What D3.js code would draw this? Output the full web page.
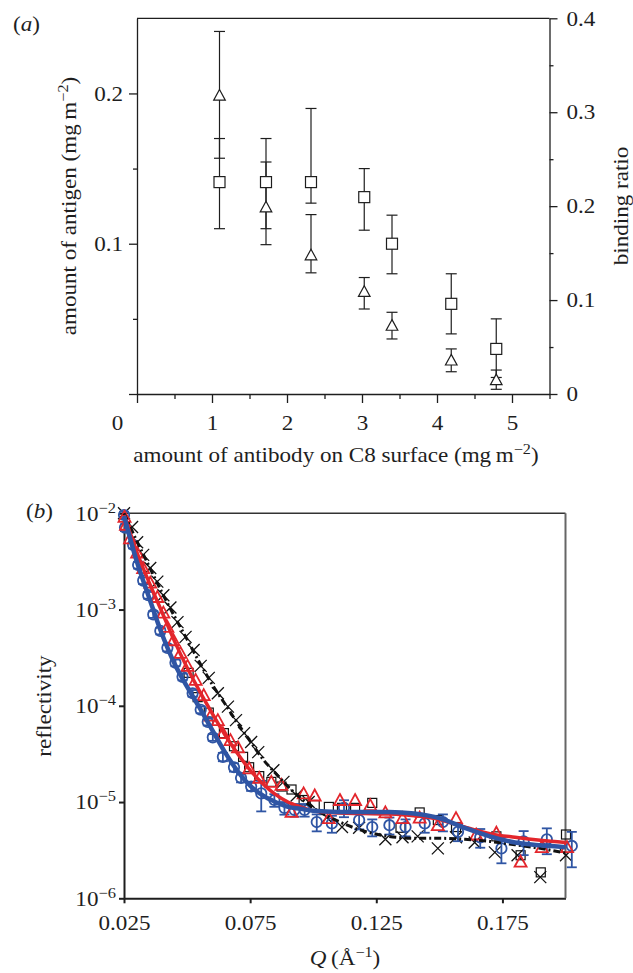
<!DOCTYPE html>
<html>
<head>
<meta charset="utf-8">
<script src="https://cdn.jsdelivr.net/npm/d3@7"></script>
<style>
body { margin: 0; background: #fff; }
svg { display: block; font-family: "Liberation Serif", "Times New Roman", serif; }
</style>
</head>
<body>
<svg id="fig" width="633" height="973"></svg>
<script>
// ---------- panel (a) data
const antibody  = [1.1, 1.72, 2.32, 3.03, 3.4, 4.19, 4.79];
const antigen   = [0.141, 0.141, 0.141, 0.131, 0.100, 0.060, 0.030];
const antigenLo = [0.110, 0.110, 0.127, 0.109, 0.080, 0.040, 0.011];
const antigenHi = [0.170, 0.170, 0.190, 0.150, 0.119, 0.080, 0.050];
const bindRatio = [0.318, 0.199, 0.148, 0.109, 0.073, 0.036, 0.015];
const bindLo    = [0.251, 0.159, 0.129, 0.0905, 0.0586, 0.0237, 0.005];
const bindHi    = [0.386, 0.247, 0.191, 0.124, 0.087, 0.048, 0.0255];

const xTicksA = [0, 1, 2, 3, 4, 5];
const xMinorA = [0.5, 1.5, 2.5, 3.5, 4.5, 5.5];
const yTicksL = [0, 0.1, 0.2];
const yMinorL = [0.05, 0.15];
const yTicksR = [0, 0.1, 0.2, 0.3, 0.4];
const yMinorR = [0.05, 0.15, 0.25, 0.35];

// ---------- panel (b) data
const qCross = [0.025, 0.0282, 0.0302, 0.0326, 0.0354, 0.0382, 0.0406, 0.0434, 0.0462, 0.0494, 0.0526, 0.0554,
  0.0586, 0.0622, 0.0662, 0.0694, 0.0726, 0.0754, 0.0782, 0.0842, 0.0882, 0.0934, 0.0982, 0.1054, 0.1114,
  0.1182, 0.1286, 0.1354, 0.1414, 0.1494, 0.1566, 0.164, 0.172, 0.181, 0.190, 0.2002];
const rCross = [1.0e-2, 7.2e-3, 5.0e-3, 3.7e-3, 2.7e-3, 1.95e-3, 1.41e-3, 1.05e-3, 7.4e-4, 5.2e-4, 3.8e-4, 2.6e-4,
  1.95e-4, 1.35e-4, 9.8e-5, 7.1e-5, 5.2e-5, 4.2e-5, 3.3e-5, 2.14e-5, 1.62e-5, 1.17e-5, 1.0e-5, 6.9e-6, 5.5e-6,
  5.4e-6, 4.1e-6, 4.3e-6, 4.4e-6, 3.3e-6, 4.3e-6, 3.8e-6, 3.0e-6, 2.8e-6, 1.66e-6, 2.8e-6];

const qSquare = [0.0506, 0.0542, 0.0586, 0.0646, 0.0686, 0.0722, 0.0746, 0.0786, 0.0834, 0.0874, 0.0914, 0.0962,
  0.1006, 0.1062, 0.1114, 0.1166, 0.1234, 0.1346, 0.1422, 0.1494, 0.1566, 0.1726, 0.1822, 0.1902, 0.2002];
const rSquare = [2.2e-4, 1.23e-4, 8.5e-5, 5.2e-5, 3.8e-5, 2.95e-5, 2.3e-5, 1.86e-5, 1.62e-5, 1.45e-5, 1.35e-5, 1.05e-5,
  9.3e-6, 8.9e-6, 8.7e-6, 8.7e-6, 9.8e-6, 5.4e-6, 7.8e-6, 6.5e-6, 5.5e-6, 4.4e-6, 2.8e-6, 1.86e-6, 4.6e-6];

const qTri = [0.0252, 0.0258, 0.0274, 0.0302, 0.0326, 0.0354, 0.0382, 0.0406, 0.0422, 0.0446, 0.0474, 0.0502, 0.0534,
  0.0566, 0.0594, 0.0622, 0.0642, 0.0672, 0.0702, 0.0746, 0.0786, 0.0834, 0.0874, 0.0914, 0.0962, 0.1006,
  0.1062, 0.1106, 0.1166, 0.1226, 0.1286, 0.1354, 0.1422, 0.1494, 0.1566, 0.1646, 0.1726, 0.1822, 0.1906, 0.2006];
const rTri = [9.2e-3, 7.6e-3, 5.5e-3, 3.9e-3, 2.7e-3, 1.9e-3, 1.35e-3, 9.3e-4, 6.6e-4, 4.8e-4, 3.55e-4, 2.6e-4, 1.86e-4,
  1.29e-4, 7.9e-5, 7.1e-5, 5.2e-5, 4.4e-5, 3.7e-5, 2.24e-5, 1.78e-5, 1.62e-5, 1.51e-5, 7.9e-6, 1.23e-5, 1.17e-5,
  6.8e-6, 1.05e-5, 1.05e-5, 9.3e-6, 7.8e-6, 6.8e-6, 6.9e-6, 5.75e-6, 6.8e-6, 4.6e-6, 4.8e-6, 2.4e-6, 3.4e-6, 3.4e-6];

const qCirc = [0.025, 0.0254, 0.0286, 0.0306, 0.0326, 0.0346, 0.0366, 0.0394, 0.0422, 0.0454, 0.0482, 0.0522, 0.0554,
  0.0582, 0.0602, 0.0642, 0.0686, 0.0714, 0.0754, 0.0794, 0.0846, 0.0886, 0.0926, 0.0966, 0.1014, 0.1074,
  0.1122, 0.1182, 0.1234, 0.1302, 0.1366, 0.1442, 0.1514, 0.1574, 0.1662, 0.1746, 0.1834, 0.1926, 0.2025];
const rCirc = [9.6e-3, 7.1e-3, 4.7e-3, 2.9e-3, 2.0e-3, 1.41e-3, 8.9e-4, 6.0e-4, 4.0e-4, 2.8e-4, 2.0e-4, 1.35e-4, 9.1e-5,
  6.8e-5, 4.7e-5, 2.95e-5, 2.3e-5, 1.78e-5, 1.45e-5, 1.23e-5, 1.05e-5, 8.7e-6, 8.3e-6, 8.3e-6, 6.2e-6, 6.0e-6,
  8.7e-6, 6.5e-6, 5.5e-6, 5.75e-6, 5.5e-6, 6.0e-6, 6.2e-6, 4.9e-6, 4.3e-6, 3.3e-6, 3.9e-6, 4.1e-6, 3.5e-6];
// relative error (dR/R) of the circles
const eCirc = [0.08, 0.08, 0.08, 0.08, 0.08, 0.08, 0.08, 0.08, 0.08, 0.08, 0.08, 0.08, 0.08,
  0.08, 0.08, 0.1, 0.1, 0.1, 0.1, 0.35, 0.15, 0.15, 0.15, 0.15, 0.2, 0.2,
  0.2, 0.2, 0.2, 0.2, 0.2, 0.2, 0.2, 0.2, 0.22, 0.3, 0.28, 0.3, 0.4];

// fitted curves
const qFit = [0.025, 0.03, 0.035, 0.04, 0.045, 0.05, 0.055, 0.06, 0.065, 0.07, 0.075, 0.08, 0.085,
  0.09, 0.095, 0.1, 0.11, 0.12, 0.13, 0.14, 0.15, 0.16, 0.17, 0.18, 0.19, 0.2];
const fitBlack = [1.0e-2, 5.2e-3, 2.8e-3, 1.51e-3, 8.5e-4, 4.9e-4, 2.8e-4, 1.66e-4, 1.05e-4, 6.6e-5, 4.3e-5, 2.8e-5, 2.0e-5,
  1.45e-5, 1.1e-5, 8.7e-6, 6.3e-6, 5.0e-6, 4.4e-6, 4.2e-6, 4.2e-6, 4.1e-6, 3.9e-6, 3.6e-6, 3.3e-6, 2.95e-6];
const fitRed = [9.6e-3, 4.0e-3, 1.9e-3, 9.5e-4, 4.7e-4, 2.5e-4, 1.41e-4, 8.3e-5, 5.0e-5, 3.2e-5, 2.14e-5, 1.55e-5, 1.2e-5,
  1.0e-5, 8.9e-6, 8.1e-6, 7.7e-6, 7.6e-6, 7.5e-6, 7.2e-6, 6.6e-6, 5.5e-6, 4.7e-6, 4.3e-6, 4.0e-6, 3.8e-6];
const fitBlue = [9.4e-3, 3.2e-3, 1.32e-3, 5.6e-4, 2.75e-4, 1.58e-4, 9.5e-5, 5.6e-5, 3.3e-5, 2.1e-5, 1.48e-5, 1.17e-5, 1.0e-5,
  8.9e-6, 8.5e-6, 8.1e-6, 7.9e-6, 7.9e-6, 7.9e-6, 7.6e-6, 6.8e-6, 5.4e-6, 4.4e-6, 3.8e-6, 3.55e-6, 3.4e-6];

const qTicksB = [0.025, 0.075, 0.125, 0.175];
const rTicksB = [1e-6, 1e-5, 1e-4, 1e-3, 1e-2];

// ---------- drawing
const svg = d3.select('#fig');
const ink = '#1e1e1e';
const red = '#e3262c';
const blue = '#2f55a4';
const FONT = 21;
const WIDE = 1.1;   // the figure's serif type is set a little wide

// move x/y of axis texts into a transform so the glyphs can be widened
function widen(sel) {
    sel.each(function () {
        const t = d3.select(this);
        const x = +t.attr('x') || 0, y = +t.attr('y') || 0;
        t.attr('x', null).attr('y', null)
         .attr('transform', `translate(${x},${y}) scale(${WIDE},1)`);
    });
}

function styleAxis(g, width) {
    g.attr('font-family', null).attr('font-size', FONT).attr('color', ink);
    g.selectAll('.domain, .tick line').attr('stroke-width', width);
    g.selectAll('.tick text').call(widen);
}

// text with optional superscripts / italics; parts = [[str, kind], ...]
function label(x, y, rot, anchor, parts, size = FONT) {
    const t = svg.append('text')
        .attr('transform', `translate(${x},${y}) rotate(${rot}) scale(${WIDE},1)`)
        .attr('text-anchor', anchor)
        .attr('font-size', size)
        .attr('fill', ink);
    let up = false;
    parts.forEach(([s, kind]) => {
        const sp = t.append('tspan').text(s);
        if (kind === 'sup') { sp.attr('font-size', size * 0.7).attr('dy', -8); up = true; }
        else if (up) { sp.attr('dy', 8); up = false; }
        if (kind === 'it') sp.attr('font-style', 'italic');
    });
    return t;
}

// ===== panel (a)
const ax = d3.scaleLinear().domain([0, 5.5]).range([137, 549.5]);
const ayL = d3.scaleLinear().domain([0, 0.25]).range([394, 18.3]);
const ayR = d3.scaleLinear().domain([0, 0.4]).range([394, 18.3]);

svg.append('g').attr('transform', 'translate(0,394)')
    .call(d3.axisBottom(ax).tickValues(xTicksA).tickSize(9).tickSizeOuter(0).tickPadding(12).tickFormat(d3.format('d')))
    .call(styleAxis, 1.3)
    .selectAll('.tick text').filter(d => d === 0)
    .attr('transform', `translate(-20,21) scale(${WIDE},1)`);
svg.append('g').attr('transform', 'translate(0,394)')
    .call(d3.axisBottom(ax).tickValues(xMinorA).tickSize(5).tickFormat(''))
    .call(styleAxis, 1.3).select('.domain').remove();

svg.append('g').attr('transform', 'translate(137,0)')
    .call(d3.axisLeft(ayL).tickValues(yTicksL).tickSize(8).tickSizeOuter(0).tickPadding(6)
        .tickFormat(d => d === 0 ? '' : d3.format('.1f')(d)))
    .call(styleAxis, 1.3);
svg.append('g').attr('transform', 'translate(137,0)')
    .call(d3.axisLeft(ayL).tickValues(yMinorL).tickSize(4).tickFormat(''))
    .call(styleAxis, 1.3).select('.domain').remove();

svg.append('g').attr('transform', 'translate(549.5,0)')
    .call(d3.axisRight(ayR).tickValues(yTicksR).tickSize(8).tickSizeOuter(0).tickPadding(9)
        .tickFormat(d => d === 0 ? '0' : d3.format('.1f')(d)))
    .call(styleAxis, 1.3);
svg.append('g').attr('transform', 'translate(549.5,0)')
    .call(d3.axisRight(ayR).tickValues(yMinorR).tickSize(4).tickFormat(''))
    .call(styleAxis, 1.3).select('.domain').remove();

svg.append('line')
    .attr('x1', ax(0)).attr('x2', ax(5.5)).attr('y1', ayL(0.25)).attr('y2', ayL(0.25))
    .attr('stroke', ink).attr('stroke-width', 1.3);

function errorBars(g, xs, lo, hi, y, color, width, cap) {
    xs.forEach((x, i) => {
        const px = ax(x);
        g.append('line').attr('x1', px).attr('x2', px).attr('y1', y(lo[i])).attr('y2', y(hi[i]));
        [lo[i], hi[i]].forEach(v => g.append('line')
            .attr('x1', px - cap).attr('x2', px + cap).attr('y1', y(v)).attr('y2', y(v)));
    });
    g.attr('stroke', color).attr('stroke-width', width);
}

const ga = svg.append('g');
errorBars(ga.append('g'), antibody, antigenLo, antigenHi, ayL, ink, 1.2, 5.5);
errorBars(ga.append('g'), antibody, bindLo, bindHi, ayR, ink, 1.2, 5.5);

ga.selectAll('rect.sq').data(d3.zip(antibody, antigen)).join('rect')
    .attr('x', d => ax(d[0]) - 5.5).attr('y', d => ayL(d[1]) - 5.5)
    .attr('width', 11).attr('height', 11)
    .attr('fill', '#fff').attr('stroke', ink).attr('stroke-width', 1.2);

ga.selectAll('path.tri').data(d3.zip(antibody, bindRatio)).join('path')
    .attr('transform', d => `translate(${ax(d[0])},${ayR(d[1])})`)
    .attr('d', 'M0,-5.8L5.8,4.8L-5.8,4.8Z')
    .attr('fill', '#fff').attr('stroke', ink).attr('stroke-width', 1.2);

label(13, 31, 0, 'start', [['('], ['a', 'it'], [')']]);
label(336, 462, 0, 'middle', [['amount of antibody on C8 surface (mg\u2009m'], ['\u22122', 'sup'], [')']]);
label(76, 206, -90, 'middle', [['amount of antigen (mg\u2009m'], ['\u22122', 'sup'], [')']]);
label(628, 206, -90, 'middle', [['binding ratio']]);

// ===== panel (b)
const bx = d3.scaleLinear().domain([0.025, 0.2]).range([124, 565.5]);
const by = d3.scaleLog().domain([1e-6, 1e-2]).range([898.3, 513.3]);

svg.append('g').attr('transform', 'translate(0,898.3)')
    .call(d3.axisBottom(bx).tickValues(qTicksB).tickSize(5).tickSizeOuter(0).tickPadding(12).tickFormat(d3.format('.3f')))
    .call(styleAxis, 2);

const yAxB = svg.append('g').attr('transform', 'translate(124,0)')
    .call(d3.axisLeft(by).tickValues(rTicksB).tickSize(5).tickSizeOuter(0).tickPadding(3).tickFormat(() => ''))
    .call(styleAxis, 2);
yAxB.selectAll('.tick text').each(function (d) {
    const t = d3.select(this);
    t.append('tspan').text('10');
    t.append('tspan').attr('font-size', 15).attr('dy', -8).text('\u2212' + Math.round(-Math.log10(d)));
});

svg.append('line').attr('x1', bx(0.025)).attr('x2', bx(0.2)).attr('y1', by(1e-2)).attr('y2', by(1e-2))
    .attr('stroke', '#333').attr('stroke-width', 1.6);
svg.append('line').attr('x1', bx(0.2)).attr('x2', bx(0.2)).attr('y1', by(1e-2)).attr('y2', by(1e-6))
    .attr('stroke', '#666').attr('stroke-width', 2);

const gb = svg.append('g');

// crosses
gb.append('g').selectAll('path').data(d3.zip(qCross, rCross)).join('path')
    .attr('transform', d => `translate(${bx(d[0])},${by(d[1])})`)
    .attr('d', 'M-6,-6L6,6M-6,6L6,-6')
    .attr('stroke', '#111').attr('stroke-width', 1.3).attr('fill', 'none');

// squares
gb.append('g').selectAll('rect').data(d3.zip(qSquare, rSquare)).join('rect')
    .attr('x', d => bx(d[0]) - 4.5).attr('y', d => by(d[1]) - 4.5)
    .attr('width', 9).attr('height', 9)
    .attr('stroke', '#111').attr('stroke-width', 1.2).attr('fill', 'none');

// circles with error bars
const gc = gb.append('g').attr('stroke', blue).attr('stroke-width', 1.8).attr('fill', 'none');
d3.zip(qCirc, rCirc, eCirc).forEach(([q, r, e]) => {
    const px = bx(q), y1 = by(r * (1 - e)), y2 = by(r * (1 + e));
    gc.append('line').attr('x1', px).attr('x2', px).attr('y1', y1).attr('y2', y2);
    gc.append('line').attr('x1', px - 5).attr('x2', px + 5).attr('y1', y1).attr('y2', y1);
    gc.append('line').attr('x1', px - 5).attr('x2', px + 5).attr('y1', y2).attr('y2', y2);
    gc.append('circle').attr('cx', px).attr('cy', by(r)).attr('r', 5.2);
});

// triangles
gb.append('g').selectAll('path').data(d3.zip(qTri, rTri)).join('path')
    .attr('transform', d => `translate(${bx(d[0])},${by(d[1])})`)
    .attr('d', 'M0,-6L6,5L-6,5Z')
    .attr('stroke', red).attr('stroke-width', 1.8).attr('fill', 'none');

// fitted curves
const fitLine = d3.line().x(d => bx(d[0])).y(d => by(d[1])).curve(d3.curveMonotoneX);
gb.append('path').attr('d', fitLine(d3.zip(qFit, fitBlack)))
    .attr('stroke', '#111').attr('stroke-width', 3).attr('fill', 'none').attr('stroke-dasharray', '7,3,2,3');
gb.append('path').attr('d', fitLine(d3.zip(qFit, fitRed)))
    .attr('stroke', red).attr('stroke-width', 3.5).attr('fill', 'none');
gb.append('path').attr('d', fitLine(d3.zip(qFit, fitBlue)))
    .attr('stroke', blue).attr('stroke-width', 4.5).attr('fill', 'none');

label(26, 518, 0, 'start', [['('], ['b', 'it'], [')']]);
label(51, 706, -90, 'middle', [['reflectivity']]);
label(345, 965, 0, 'middle', [['Q', 'it'], ['\u2009(\u00c5'], ['\u22121', 'sup'], [')']]);
</script>
</body>
</html>
